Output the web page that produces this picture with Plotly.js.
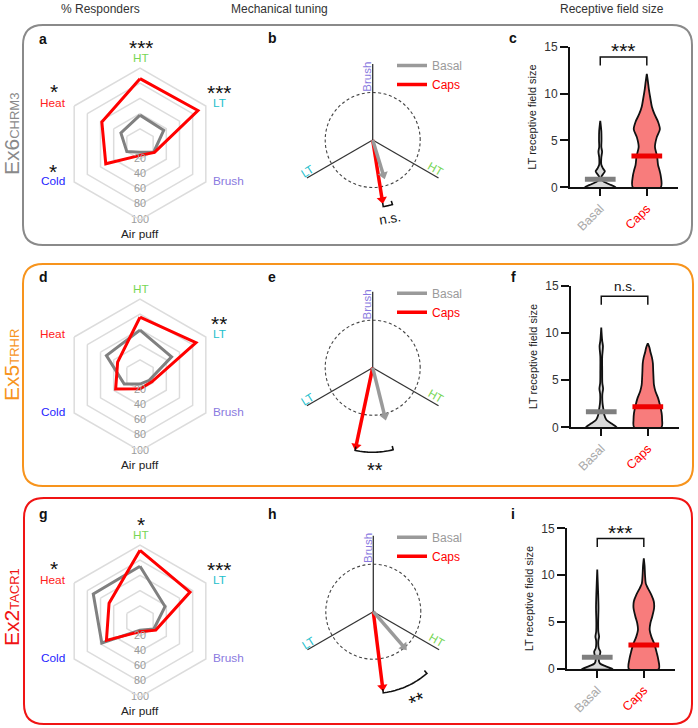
<!DOCTYPE html>
<html><head><meta charset="utf-8">
<script src="https://cdn.plot.ly/plotly-3.0.1.min.js"></script>
<style>html,body{margin:0;padding:0;background:#fff}#chart{width:698px;height:728px}</style>
</head><body><div id="chart"></div>
<script>
// ================= DATA =================
const columnTitles = ['% Responders', 'Mechanical tuning', 'Receptive field size'];
const rowNames = ['Ex6', 'Ex5', 'Ex2'];
const rowGenes = ['CHRM3', 'TRHR', 'TACR1'];
const panelLetters = [['a','b','c'],['d','e','f'],['g','h','i']];
const groups = ['Basal', 'Caps'];

// % responders (radar)
const modalities = ['HT', 'LT', 'Brush', 'Air puff', 'Cold', 'Heat'];
const radialTicks = [0, 20, 40, 60, 80, 100];
const basalPctA = [38, 36, 21, 11, 20, 29];
const capsPctA  = [86, 88, 22, 15, 52, 58];
const basalPctD = [59, 48, 14, 12, 24, 51];
const capsPctD  = [76, 85, 18, 18, 37, 34];
const basalPctG = [72, 38, 21, 12, 58, 71];
const capsPctG  = [93, 76, 24, 14, 51, 47];
const starsA = ['***', '***', '', '', '*', '*'];
const starsD = ['', '**', '', '', '', ''];
const starsG = ['*', '***', '', '', '', '*'];

// mechanical tuning (vector angle in degrees clockwise from Brush, magnitude rel. to unit circle)
const tuningAxes = ['Brush', 'HT', 'LT'];
const tuningAxisAngle = [0, 120, 240];
const tuningAngleB = [163, 171];
const tuningMagB   = [0.83, 1.33];
const tuningAngleE = [166, 192];
const tuningMagE   = [1.11, 1.75];
const tuningAngleH = [139, 173];
const tuningMagH   = [1.04, 1.66];
const tuningSig = ['n.s.', '**', '**'];

// receptive field size (violin profiles: levels and relative density)
const rfTicks = [0, 5, 10, 15];
const basalC_lv = [0, 0.35, 0.7, 1.1, 1.4, 1.7, 2.0, 2.4, 3.2, 3.8, 4.3, 5, 6, 7.1];
const basalC_d  = [1, 0.55, 0.15, 0.07, 0.18, 0.3, 0.18, 0.07, 0.07, 0.12, 0.07, 0.08, 0.07, 0];
const capsC_lv  = [0, 1.2, 1.8, 2.4, 3.3, 4.3, 5.3, 6.2, 7, 7.8, 8.6, 9.5, 10.5, 11.3, 12.1];
const capsC_d   = [0.91, 0.91, 0.83, 0.73, 0.67, 0.53, 0.64, 0.85, 0.73, 0.5, 0.33, 0.23, 0.13, 0.07, 0];
const basalF_lv = [0, 0.4, 0.8, 1.3, 2, 2.6, 3.5, 4.1, 4.7, 6, 7.5, 8.6, 9.2, 10.6];
const basalF_d  = [1, 0.67, 0.33, 0.2, 0.13, 0.08, 0.07, 0.12, 0.07, 0.06, 0.06, 0.11, 0.06, 0];
const capsF_lv  = [0, 0.8, 1.5, 2.3, 3.1, 3.8, 4.5, 5.3, 6, 6.8, 7.4, 8, 8.5, 8.9];
const capsF_d   = [0.89, 0.93, 0.9, 0.8, 0.67, 0.5, 0.4, 0.37, 0.35, 0.33, 0.27, 0.17, 0.1, 0];
const basalI_lv = [0, 0.3, 0.6, 1.0, 1.5, 1.85, 2.2, 3, 3.45, 4, 5, 6.5, 8, 10.6];
const basalI_d  = [1, 0.53, 0.17, 0.1, 0.17, 0.2, 0.1, 0.07, 0.12, 0.07, 0.06, 0.08, 0.06, 0];
const capsI_lv  = [0, 1.1, 1.8, 2.6, 3.4, 4.2, 4.9, 5.6, 6.5, 7.2, 7.9, 8.6, 9.1, 10, 11, 11.8];
const capsI_d   = [0.97, 0.93, 0.83, 0.7, 0.5, 0.38, 0.43, 0.55, 0.67, 0.65, 0.49, 0.27, 0.13, 0.08, 0.05, 0];
const rfMeanC = [0.85, 3.33];
const rfMeanF = [1.66, 2.19];
const rfMeanI = [1.24, 2.56];
const rfSig = ['***', 'n.s.', '***'];

// ================= STYLE / LAYOUT =================
const W = 698, H = 728;
const FONT = 'Liberation Sans, Arial, Helvetica, sans-serif';
const px = x => x / W, py = y => 1 - y / H;
const rowColor = ['#8a8a8a', '#f7941d', '#f01414'];
const groupColor = ['#808080', '#ff0000'];
const arrowColor = ['#9a9a9a', '#ff0000'];
const violinFill = ['#d9d9d9', '#f87c7c'];
const labelColor = {'HT':'#78d655','LT':'#22c0cc','Brush':'#8a7ae0','Air puff':'#222222','Cold':'#2424ff','Heat':'#ff2020'};
const colored = (t, c) => `<span style="color:${c}">${t}</span>`;

const rowBoxes = [[23,25,692,245],[23,264,693,486],[24,498,692,724]];
const radarCY = [144, 375, 621], radarCX = 140, radarR = 76;
const tunCX = [372.7, 372.7, 373.3], tunCY = [140, 367.7, 611.7], tunUnit = 47.5;
const vioX = [[570,678],[571,679],[567,675]];
const vioY = [[187.3,46.7],[427.3,286],[669,528.3]];
const rowLabelY = [134, 365, 607];
const letterPos = [43, 272, 513];
const letterRowY = [[39,38,38],[277,277,277],[514,514,514]];

const radarBasal = [basalPctA, basalPctD, basalPctG];
const radarCaps = [capsPctA, capsPctD, capsPctG];
const radarStars = [starsA, starsD, starsG];
const tunAngle = [tuningAngleB, tuningAngleE, tuningAngleH];
const tunMag = [tuningMagB, tuningMagE, tuningMagH];
const tunArcR = [1.42, 1.78, 1.72];
const tunSigPos = [[17.3, 78, -10, 13.5], [2.3, 97, 0, 20], [41.7, 84, -25, 20]];
const vioLv = [[basalC_lv, capsC_lv],[basalF_lv, capsF_lv],[basalI_lv, capsI_lv]];
const vioD  = [[basalC_d, capsC_d],[basalF_d, capsF_d],[basalI_d, capsI_d]];
const vioMean = [rfMeanC, rfMeanF, rfMeanI];

const traces = [];
const layout = {
  width: W, height: H, margin: {l:0, r:0, t:0, b:0, pad:0},
  paper_bgcolor: '#fff', plot_bgcolor: 'rgba(0,0,0,0)',
  font: {family: FONT, size: 12, color: '#222'},
  showlegend: true, shapes: [], annotations: []
};
function ann(text, x, y, o) {
  return Object.assign({text, x: px(x), y: py(y), xref:'paper', yref:'paper', showarrow:false,
    xanchor:'center', yanchor:'middle', font:{family:FONT, size:13, color:'#222'}}, o || {});
}
// significance asterisks: tight box around the glyphs (they sit in the top part of the line)
function starAnn(text, x, y, size, o) {
  return ann(text, x, y, Object.assign({height: Math.round(size * 0.62), valign:'top', borderpad:0,
    font:{family:FONT, size:size, color:'#111'}}, o || {}));
}

// column titles
[101, 279, 612].forEach((x, i) => layout.annotations.push(ann(columnTitles[i], x, 9, {font:{family:FONT,size:12,color:'#333'}})));

// rounded boxes
function rr(x0,y0,x1,y1,r){
  const X = v => (v/W).toFixed(5), Y = v => (1 - v/H).toFixed(5);
  return `M${X(x0+r)},${Y(y0)} L${X(x1-r)},${Y(y0)} Q${X(x1)},${Y(y0)} ${X(x1)},${Y(y0+r)} L${X(x1)},${Y(y1-r)} Q${X(x1)},${Y(y1)} ${X(x1-r)},${Y(y1)} L${X(x0+r)},${Y(y1)} Q${X(x0)},${Y(y1)} ${X(x0)},${Y(y1-r)} L${X(x0)},${Y(y0+r)} Q${X(x0)},${Y(y0)} ${X(x0+r)},${Y(y0)} Z`;
}
rowBoxes.forEach((b, i) => layout.shapes.push({type:'path', xref:'paper', yref:'paper', path: rr(b[0],b[1],b[2],b[3],20), line:{color:rowColor[i], width:2}, layer:'below'}));

// label / star offsets around a radar (pixels from centre)
const modLabelOffset = {'HT':[1,-86], 'LT':[79,-41], 'Brush':[88,37], 'Air puff':[0,90], 'Cold':[-87,37], 'Heat':[-87,-41]};
const starOffset = {'HT':[1,-101], 'LT':[79,-56], 'Heat':[-86,-57], 'Cold':[-87,24]};

for (let row = 0; row < 3; row++) {
  // row label
  layout.annotations.push(ann(`${rowNames[row]}<span style="font-size:13px">${rowGenes[row]}</span>`, 11, rowLabelY[row],
    {textangle:-90, font:{family:FONT, size:21, color:rowColor[row]}}));
  // panel letters
  letterPos.forEach((x, c) => layout.annotations.push(ann(`<b>${panelLetters[row][c]}</b>`, x, letterRowY[row][c], {font:{family:FONT,size:14,color:'#111'}})));

  // ---------- radar ----------
  const pk = row === 0 ? 'polar' : 'polar' + (row + 1);
  const cy = radarCY[row];
  layout[pk] = {
    domain: {x:[px(radarCX - radarR), px(radarCX + radarR)], y:[py(cy + radarR), py(cy - radarR)]},
    bgcolor: 'rgba(0,0,0,0)', gridshape: 'linear',
    radialaxis: {range:[0,100], tickvals:[20,40,60,80,100], showticklabels:false, showline:false, ticks:'',
      gridcolor:'#dcdcdc', gridwidth:1.5},
    angularaxis: {type:'category', categoryarray: modalities, direction:'clockwise', rotation:90,
      showgrid:false, showline:true, linecolor:'#dcdcdc', linewidth:1.5, ticks:'', showticklabels:false}
  };
  [radarBasal[row], radarCaps[row]].forEach((vals, g) => {
    traces.push({type:'scatterpolar', subplot: pk, mode:'lines', r: vals.concat([vals[0]]),
      theta: modalities.concat([modalities[0]]), line:{color: groupColor[g], width:3}, showlegend:false, hoverinfo:'skip'});
  });
  traces.push({type:'scatterpolar', subplot: pk, mode:'text', r: radialTicks, theta: radialTicks.map(() => 'Air puff'),
    text: radialTicks.map(String), textposition:'middle center', textfont:{family:FONT, size:10.8, color:'#9a9a9a'},
    showlegend:false, hoverinfo:'skip'});
  modalities.forEach(m => {
    const o = modLabelOffset[m];
    layout.annotations.push(ann(m, radarCX + o[0], cy + o[1], {font:{family:FONT, size:11.8, color: labelColor[m]}}));
  });
  radarStars[row].forEach((s, i) => {
    if (!s) return;
    const o = starOffset[modalities[i]];
    layout.annotations.push(starAnn(s, radarCX + o[0], cy + o[1] - 1, 21));
  });

  // ---------- tuning ----------
  const tk = 'polar' + (row + 4);
  const tcx = tunCX[row], tcy = tunCY[row], tR = 2 * tunUnit;
  layout[tk] = {
    domain: {x:[px(tcx - tR), px(tcx + tR)], y:[py(tcy + tR), py(tcy - tR)]},
    bgcolor: 'rgba(0,0,0,0)',
    radialaxis: {range:[0,2], tickvals:[1], showticklabels:false, showline:false, ticks:'',
      gridcolor:'#444', gridwidth:1.1, griddash:'3px,2.5px'},
    angularaxis: {type:'linear', thetaunit:'degrees', direction:'clockwise', rotation:90,
      showgrid:false, showline:false, ticks:'', showticklabels:false}
  };
  const sr = [], st = [];
  tuningAxisAngle.forEach(a => { sr.push(0, 1.6, null); st.push(a, a, null); });
  traces.push({type:'scatterpolar', subplot: tk, mode:'lines', r: sr, theta: st, line:{color:'#333', width:1.3},
    showlegend:false, hoverinfo:'skip'});
  const lg = row === 0 ? 'legend' : 'legend' + (row + 1);
  [1, 0].forEach(g => {
    const a = tunAngle[row][g], m = tunMag[row][g];
    traces.push({type:'scatterpolar', subplot: tk, mode:'lines', r:[0, m - 0.06], theta:[a, a],
      line:{color: arrowColor[g], width:3.5}, name: colored(groups[g], g === 0 ? '#9a9a9a' : '#ff0000'),
      legend: lg, legendrank: g + 1, showlegend: true, hoverinfo:'skip'});
    traces.push({type:'scatterpolar', subplot: tk, mode:'markers', r:[m - 0.06], theta:[a],
      marker:{symbol:'triangle-up', size:9, angle:a, color: arrowColor[g], line:{width:0}}, showlegend:false, hoverinfo:'skip'});
  });
  // significance arc
  const a0 = Math.min(...tunAngle[row]), a1 = Math.max(...tunAngle[row]);
  const ar = tunArcR[row], ai = ar - 0.08;
  const arcR = [ai], arcT = [a0];
  for (let k = 0; k <= 24; k++) { arcR.push(ar); arcT.push(a0 + (a1 - a0) * k / 24); }
  arcR.push(ai); arcT.push(a1);
  traces.push({type:'scatterpolar', subplot: tk, mode:'lines', r: arcR, theta: arcT, line:{color:'#111', width:1.6},
    showlegend:false, hoverinfo:'skip'});
  const sp = tunSigPos[row];
  if (tuningSig[row].indexOf('*') >= 0) {
    layout.annotations.push(starAnn(tuningSig[row], tcx + sp[0], tcy + sp[1], sp[3], {textangle: sp[2]}));
  } else {
    layout.annotations.push(ann(tuningSig[row], tcx + sp[0], tcy + sp[1],
      {textangle: sp[2], font:{family:FONT, size: sp[3], color:'#111'}}));
  }
  // axis labels
  const axLab = {'Brush':[-5.5,-63.5,-90], 'LT':[-65,31,-32], 'HT':[63,28.5,30]};
  tuningAxes.forEach(nm => {
    const o = axLab[nm];
    layout.annotations.push(ann(nm, tcx + o[0], tcy + o[1], {textangle:o[2], font:{family:FONT, size:11.5, color: labelColor[nm]}}));
  });
  layout[lg] = {x: px(392), y: py(tcy - 89), xanchor:'left', yanchor:'top', bgcolor:'rgba(0,0,0,0)',
    font:{family:FONT, size:12}, traceorder:'normal', itemwidth:30, tracegroupgap:0};

  // ---------- violins ----------
  const sfx = row === 0 ? '' : String(row + 1);
  const xa = 'xaxis' + sfx, ya = 'yaxis' + sfx;
  const xr = 'x' + sfx, yr = 'y' + sfx;
  layout[xa] = {domain:[px(vioX[row][0]), px(vioX[row][1])], anchor: yr, range:[-0.65, 1.67],
    tickmode:'array', tickvals:[0,1], ticktext: groups.map((g, i) => colored(g, i === 0 ? '#aaaaaa' : '#ff0000')),
    tickangle:-45, tickfont:{family:FONT, size:12.5}, showline:true, linecolor:'#111', linewidth:2,
    ticks:'outside', ticklen:7, tickwidth:2, tickcolor:'#111', showgrid:false, zeroline:false, fixedrange:true};
  layout[ya] = {domain:[py(vioY[row][0]), py(vioY[row][1])], anchor: xr, range:[0, 15],
    tickmode:'array', tickvals: rfTicks, tickfont:{family:FONT, size:12, color:'#333'},
    showline:true, linecolor:'#111', linewidth:2, ticks:'outside', ticklen:8, tickwidth:2, tickcolor:'#111',
    showgrid:false, zeroline:false, fixedrange:true,
    title:{text:'LT receptive field size', font:{family:FONT, size:11, color:'#222'}, standoff:5}};
  const maxHW = 0.33;
  [0, 1].forEach(g => {
    const lv = vioLv[row][g], d = vioD[row][g];
    const xs = [], ys = [];
    for (let i = 0; i < lv.length; i++) { xs.push(g + d[i] * maxHW); ys.push(lv[i]); }
    for (let i = lv.length - 1; i >= 0; i--) { xs.push(g - d[i] * maxHW); ys.push(lv[i]); }
    xs.push(xs[0]); ys.push(ys[0]);
    traces.push({type:'scatter', xaxis: xr, yaxis: yr, mode:'lines', x: xs, y: ys, fill:'toself',
      fillcolor: violinFill[g], line:{color:'#111', width:1.8, shape:'spline', smoothing:0.8},
      showlegend:false, hoverinfo:'skip'});
  });
  [0, 1].forEach(g => {
    const m = vioMean[row][g];
    traces.push({type:'scatter', xaxis: xr, yaxis: yr, mode:'lines', x:[g - maxHW, g + maxHW], y:[m, m],
      line:{color: g === 1 ? '#ee0000' : '#7f7f7f', width:5}, showlegend:false, hoverinfo:'skip'});
  });
  traces.push({type:'scatter', xaxis: xr, yaxis: yr, mode:'lines', x:[0,0,1,1], y:[13.0,13.9,13.9,13.0],
    line:{color:'#111', width:1.5}, showlegend:false, hoverinfo:'skip', cliponaxis:false});
  const isStar = rfSig[row].indexOf('*') >= 0;
  layout.annotations.push({text: rfSig[row], xref: xr, yref: yr, x:0.5, y:13.9, yanchor:'bottom', yshift: isStar ? -7 : 0,
    showarrow:false, font:{family:FONT, size: isStar ? 21 : 13.5, color:'#111'}});
}

Plotly.newPlot('chart', traces, layout, {staticPlot:true, displayModeBar:false});
</script>
</body></html>
